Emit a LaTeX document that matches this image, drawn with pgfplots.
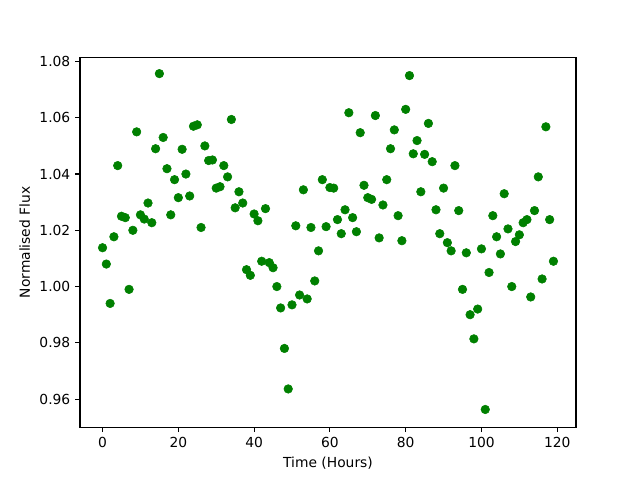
\documentclass[border=0pt]{standalone}
\usepackage{pgfplots}
\pgfplotsset{compat=1.18}
\usepackage{fontspec}
\setmainfont{DejaVu Sans}
\definecolor{mplgreen}{RGB}{0,128,0}
\begin{document}
\begin{tikzpicture}
\path[use as bounding box] (0,0) rectangle (6.4in,4.8in);
\begin{axis}[
  at={(0.8in,0.528in)}, anchor=south west,
  scale only axis, width=4.96in, height=3.696in,
  xmin=-5.95, xmax=124.95, ymin=0.9500, ymax=1.0814,
  xtick={0,20,40,60,80,100,120},
  ytick={0.96,0.98,1.00,1.02,1.04,1.06,1.08},
  yticklabel style={/pgf/number format/.cd, fixed, fixed zerofill, precision=2},
  /pgf/number format/assume math mode=true,
  tick align=outside, xtick pos=bottom, ytick pos=left,
  major tick length=3.5pt,
  tick style={black, line width=0.8pt},
  axis line style={line width=0.8pt},
  ticklabel style={font=\fontsize{10}{12}\selectfont},
  label style={font=\fontsize{10}{12}\selectfont},
  xlabel={Time (Hours)}, ylabel={Normalised Flux},
]
\addplot[only marks, mark=*, mark size=3.1pt, mplgreen, mark options={draw=mplgreen, fill=mplgreen}] coordinates {
(0,1.0138)(1,1.008)(2,0.994)(3,1.0177)(4,1.043)(5,1.025)(6,1.0245)(7,0.999)(8,1.020)(9,1.055)
(10,1.0255)(11,1.024)(12,1.0297)(13,1.0227)(14,1.049)(15,1.0757)(16,1.053)(17,1.0419)(18,1.0255)(19,1.038)
(20,1.0316)(21,1.0488)(22,1.040)(23,1.0322)(24,1.057)(25,1.0575)(26,1.021)(27,1.050)(28,1.0448)(29,1.045)
(30,1.035)(31,1.0355)(32,1.043)(33,1.039)(34,1.0594)(35,1.028)(36,1.0337)(37,1.0297)(38,1.006)(39,1.004)
(40,1.0258)(41,1.0234)(42,1.009)(43,1.0277)(44,1.0085)(45,1.0067)(46,1.000)(47,0.9924)(48,0.978)(49,0.9636)
(50,0.9935)(51,1.0216)(52,0.997)(53,1.0344)(54,0.9956)(55,1.021)(56,1.002)(57,1.0127)(58,1.038)(59,1.0213)
(60,1.0352)(61,1.035)(62,1.0238)(63,1.0188)(64,1.0273)(65,1.0618)(66,1.0245)(67,1.0195)(68,1.0547)(69,1.036)
(70,1.0316)(71,1.031)(72,1.0608)(73,1.0173)(74,1.029)(75,1.038)(76,1.049)(77,1.0557)(78,1.0252)(79,1.0163)
(80,1.063)(81,1.075)(82,1.0472)(83,1.0519)(84,1.0337)(85,1.047)(86,1.058)(87,1.0444)(88,1.0273)(89,1.0188)
(90,1.035)(91,1.0156)(92,1.0127)(93,1.043)(94,1.027)(95,0.999)(96,1.012)(97,0.990)(98,0.9814)(99,0.992)
(100,1.0134)(101,0.9563)(102,1.005)(103,1.0252)(104,1.0177)(105,1.0116)(106,1.033)(107,1.0205)(108,1.000)(109,1.016)
(110,1.0184)(111,1.0227)(112,1.0238)(113,0.9963)(114,1.027)(115,1.039)(116,1.0027)(117,1.0568)(118,1.0238)(119,1.009)
};
\end{axis}
\end{tikzpicture}
\end{document}
